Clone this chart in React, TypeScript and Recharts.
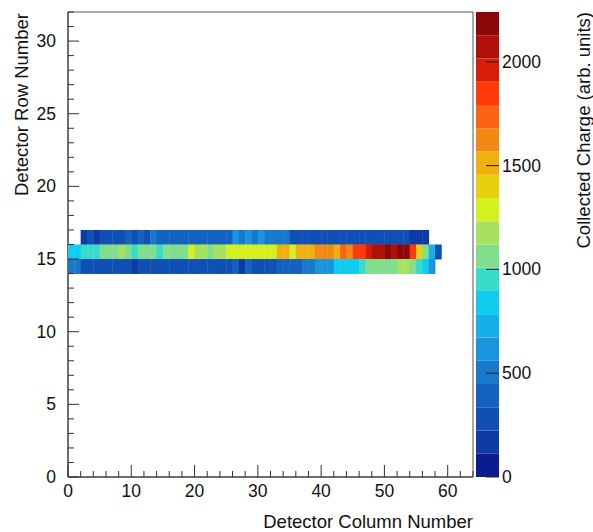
import { Bar, BarChart, ReferenceArea, Scatter, ScatterChart, XAxis, YAxis } from "recharts";

// detector rows that fired, first column index, and collected charge per column
const row16Start = 2;
const row16Values = [
  170, 260, 160, 290, 280, 300, 280, 420, 300, 400, 250, 450, 380,
  410, 400, 420, 390, 410, 400, 430, 400, 390, 410, 400,
  560, 470, 580, 520, 620, 480, 500, 490, 470,
  290, 280, 300, 270, 280, 310, 280, 270, 290, 300, 280, 270, 290, 280, 300, 290, 280, 270, 290,
  170, 180, 160,
];
const row15Start = 0;
const row15Values = [
  840, 860, 950, 930, 960, 1060, 1050, 1070, 1180, 1060,
  950, 1060, 1050, 1070, 960, 1080, 1060, 1100, 1070, 1240,
  1230, 1220, 1090, 1150, 1140, 1270, 1290, 1260, 1340, 1300,
  1290, 1280, 1300, 1500, 1510, 1300, 1460, 1520, 1510, 1620,
  1650, 1640, 1520, 1740, 1630, 1850, 1860, 1960, 2070, 2080,
  2180, 2060, 2190, 2200, 1850, 1400, 1050, 780, 230,
];
const row14Start = 0;
const row14Values = [
  500, 520, 260, 270, 250, 260, 270, 250, 260, 270,
  170, 260, 250, 240, 250, 240, 250, 240, 250, 240,
  250, 240, 250, 240, 250, 240, 380, 180, 390, 300,
  310, 290, 300, 400, 410, 390, 400, 500, 520, 650,
  640, 660, 840, 850, 830, 840, 950, 1020, 1040, 1030,
  1050, 1040, 1180, 1190, 1060, 950, 830, 620,
];

// colour palette, low to high
const paletteColors = [
  "#0a1c8e", "#0d3aa4", "#1050b4", "#1462c0", "#1878cc",
  "#1a94dc", "#14b0ea", "#10ccf0", "#38dcc8", "#80de8c",
  "#a8e060", "#d4f020", "#e8d010", "#f0b010", "#f08a14",
  "#fa6412", "#ff3a0a", "#d81c08", "#b01008", "#8c0808",
];
const zMax = 2240;
const zTicks = [0, 500, 1000, 1500, 2000];
const xTicks = Array.from({ length: 33 }, (_, i) => i * 2);
const yTicks = Array.from({ length: 33 }, (_, i) => i);

const FONT = "'Liberation Sans', Arial, sans-serif";
const TICK_FS = 17.5;
const TITLE_FS = 18.5;
const PLOT_W = 405;
const PLOT_H = 465;
const CELL_W = PLOT_W / 64;
const CELL_H = PLOT_H / 32;
const bandStep = zMax / paletteColors.length;

const toCells = (row: number, start: number, values: number[]) =>
  values.map((v, i) => ({ col: start + i + 0.5, row: row + 0.5, value: v }));

const cells = [
  ...toCells(16, row16Start, row16Values),
  ...toCells(15, row15Start, row15Values),
  ...toCells(14, row14Start, row14Values),
];

const colorFor = (v: number) =>
  paletteColors[Math.min(paletteColors.length - 1, Math.floor(v / bandStep))];

const barRow: Record<string, number | string> = { name: "z" };
paletteColors.forEach((_, i) => (barRow[`b${i}`] = bandStep));

const CellShape = (props: any) => {
  const { cx, cy, payload } = props;
  return (
    <rect
      x={cx - CELL_W / 2}
      y={cy - CELL_H / 2}
      width={CELL_W + 0.4}
      height={CELL_H + 0.4}
      fill={colorFor(payload.value)}
    />
  );
};

const XTick = ({ x, y, payload }: any) => {
  const v = payload.value;
  const major = v % 10 === 0;
  return (
    <g>
      <line x1={x} x2={x} y1={y} y2={y - (major ? 12 : 6)} stroke="#333" />
      {major && (
        <text x={x} y={y + 20} textAnchor="middle" fontSize={TICK_FS} fontFamily={FONT} fill="#111">
          {v}
        </text>
      )}
    </g>
  );
};

const YTick = ({ x, y, payload }: any) => {
  const v = payload.value;
  const major = v % 5 === 0;
  return (
    <g>
      <line x1={x} x2={x + (major ? 11 : 6)} y1={y} y2={y} stroke="#333" />
      {major && (
        <text x={x - 12} y={y + 6} textAnchor="end" fontSize={TICK_FS} fontFamily={FONT} fill="#111">
          {v}
        </text>
      )}
    </g>
  );
};

const ZTick = ({ x, y, payload }: any) => (
  <g>
    <line x1={x - 13} x2={x} y1={y} y2={y} stroke="#222" />
    <text x={x + 3} y={y + 6} textAnchor="start" fontSize={TICK_FS} fontFamily={FONT} fill="#111">
      {payload.value}
    </text>
  </g>
);

export default function App() {
  return (
    <div style={{ position: "absolute", left: 0, top: 0, width: 593, height: 532, background: "#fff" }}>
      <div style={{ position: "absolute", left: 0, top: 0 }}>
        <ScatterChart width={480} height={532} margin={{ top: 12, right: 7, bottom: 0, left: 0 }}>
          <XAxis
            type="number"
            dataKey="col"
            domain={[0, 64]}
            ticks={xTicks}
            interval={0}
            height={55}
            tickSize={0}
            tickMargin={0}
            tick={<XTick />}
            axisLine={{ stroke: "#333" }}
            label={{
              content: () => (
                <text x={473} y={528} textAnchor="end" fontSize={TITLE_FS} fontFamily={FONT} fill="#111">
                  Detector Column Number
                </text>
              ),
            }}
          />
          <YAxis
            type="number"
            dataKey="row"
            domain={[0, 32]}
            ticks={yTicks}
            interval={0}
            width={68}
            tickSize={0}
            tickMargin={0}
            tick={<YTick />}
            axisLine={{ stroke: "#333" }}
            label={{
              content: () => (
                <text
                  x={28}
                  y={13}
                  transform="rotate(-90 28 13)"
                  textAnchor="end"
                  fontSize={TITLE_FS}
                  fontFamily={FONT}
                  fill="#111"
                >
                  Detector Row Number
                </text>
              ),
            }}
          />
          <Scatter data={cells} shape={<CellShape />} isAnimationActive={false} />
          <ReferenceArea x1={0} x2={64} y1={0} y2={32} fill="none" stroke="#555" strokeWidth={1} />
        </ScatterChart>
      </div>
      <div style={{ position: "absolute", left: 476, top: 0 }}>
        <BarChart
          width={117}
          height={532}
          data={[barRow]}
          margin={{ top: 12, right: 0, bottom: 55, left: 0 }}
          barCategoryGap={0}
        >
          <XAxis dataKey="name" hide />
          <YAxis
            orientation="right"
            type="number"
            domain={[0, zMax]}
            ticks={zTicks}
            width={94}
            tickSize={0}
            tickMargin={0}
            axisLine={false}
            tick={<ZTick />}
            label={{
              content: () => (
                <text
                  x={114}
                  y={12}
                  transform="rotate(-90 114 12)"
                  textAnchor="end"
                  fontSize={TITLE_FS}
                  fontFamily={FONT}
                  fill="#111"
                >
                  Collected Charge (arb. units)
                </text>
              ),
            }}
          />
          {paletteColors.map((c, i) => (
            <Bar key={c} dataKey={`b${i}`} stackId="z" fill={c} isAnimationActive={false} />
          ))}
        </BarChart>
      </div>
    </div>
  );
}
